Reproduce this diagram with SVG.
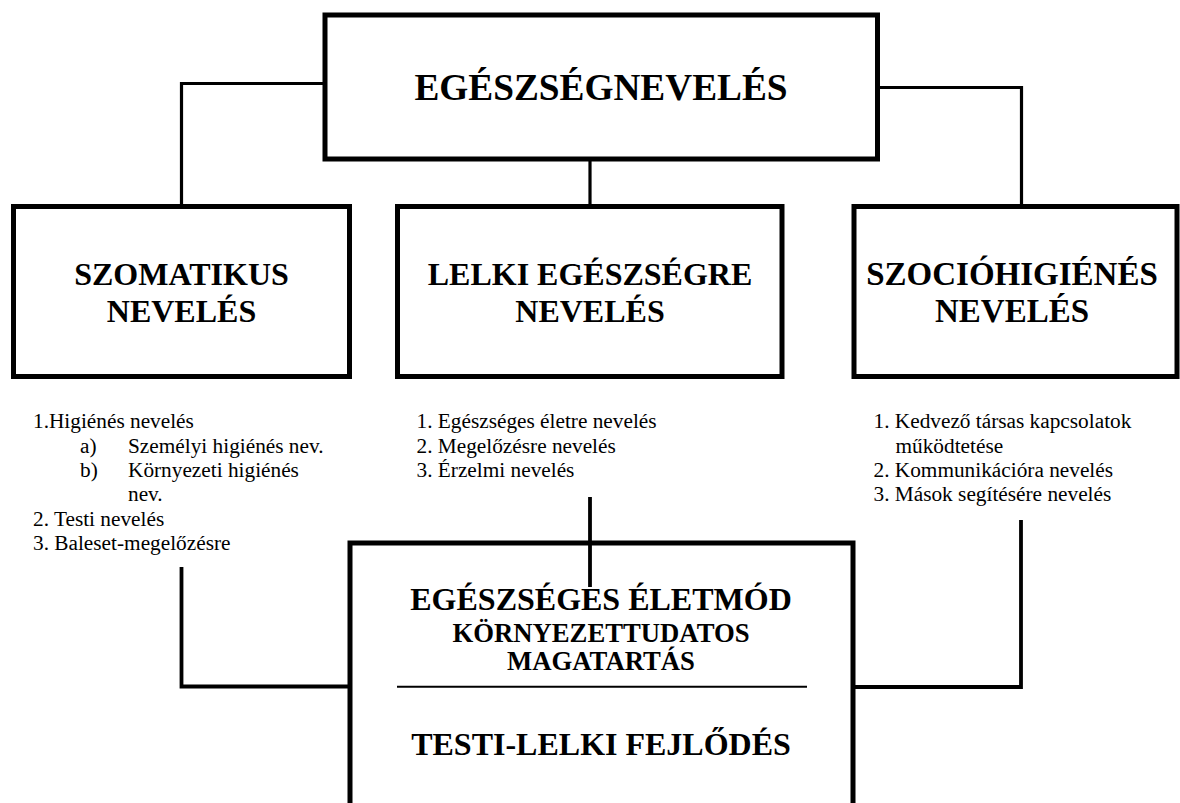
<svg xmlns="http://www.w3.org/2000/svg" width="1180" height="803" viewBox="0 0 1180 803">
<style>
.box{fill:none;stroke:#000;stroke-width:5}
.con{fill:none;stroke:#000;stroke-width:3.2}
.con2{fill:none;stroke:#000;stroke-width:3.8}
.h{font-family:"Liberation Serif","Times New Roman",serif;font-weight:bold;fill:#000;text-anchor:middle}
.t{font-family:"Liberation Serif","Times New Roman",serif;font-size:21.3px;fill:#000}
</style>
<rect width="1180" height="803" fill="#fff"/>
<g id="connectors">
<polyline class="con" points="325,83.5 181.5,83.5 181.5,206.5"/>
<polyline class="con" points="877.5,87.5 1021.5,87.5 1021.5,206.5"/>
<line class="con" x1="590" y1="159" x2="590" y2="206.5"/>
<polyline class="con2" points="181.5,567 181.5,686.5 350,686.5"/>
<polyline class="con2" points="1021,520 1021,687 853,687"/>
<line class="con2" x1="590" y1="497" x2="590" y2="587"/>
</g>
<g id="n-top">
<rect class="box" x="325" y="15" width="552.5" height="144"/>
<text class="h" x="601" y="100" font-size="37.3">EGÉSZSÉGNEVELÉS</text>
</g>
<g id="n-szomatikus">
<rect class="box" x="13.5" y="206.5" width="336" height="170"/>
<text class="h" x="181.5" y="285" font-size="32">SZOMATIKUS</text>
<text class="h" x="181.5" y="322" font-size="32">NEVELÉS</text>
</g>
<g id="n-lelki">
<rect class="box" x="397.5" y="206.5" width="384.5" height="170"/>
<text class="h" x="590" y="285" font-size="32">LELKI EGÉSZSÉGRE</text>
<text class="h" x="590" y="322" font-size="32">NEVELÉS</text>
</g>
<g id="n-szocio">
<rect class="box" x="854" y="206.5" width="323" height="170"/>
<text class="h" x="1012" y="285" font-size="33">SZOCIÓHIGIÉNÉS</text>
<text class="h" x="1012" y="322" font-size="33">NEVELÉS</text>
</g>
<g id="list-szomatikus">
<text class="t" x="33" y="428">1.Higiénés nevelés</text>
<text class="t" x="80" y="452.5">a)</text>
<text class="t" x="128" y="452.5">Személyi higiénés nev.</text>
<text class="t" x="80" y="477">b)</text>
<text class="t" x="128" y="477">Környezeti higiénés</text>
<text class="t" x="128" y="501">nev.</text>
<text class="t" x="33" y="525.5">2. Testi nevelés</text>
<text class="t" x="33" y="550">3. Baleset-megelőzésre</text>
</g>
<g id="list-lelki">
<text class="t" x="416.5" y="428">1. Egészséges életre nevelés</text>
<text class="t" x="416.5" y="452.5">2. Megelőzésre nevelés</text>
<text class="t" x="416.5" y="477">3. Érzelmi nevelés</text>
</g>
<g id="list-szocio">
<text class="t" x="873.5" y="428">1. Kedvező társas kapcsolatok</text>
<text class="t" x="895.5" y="452.5">működtetése</text>
<text class="t" x="873.5" y="477">2. Kommunikációra nevelés</text>
<text class="t" x="873.5" y="501">3. Mások segítésére nevelés</text>
</g>
<g id="n-bottom">
<polyline class="box" points="350,810 350,543 853,543 853,810"/>
<text class="h" x="601" y="610" font-size="32">EGÉSZSÉGES ÉLETMÓD</text>
<text class="h" x="601" y="641.5" font-size="26.7">KÖRNYEZETTUDATOS</text>
<text class="h" x="601" y="670" font-size="26.7">MAGATARTÁS</text>
<line x1="397" y1="686.7" x2="807" y2="686.7" stroke="#000" stroke-width="2"/>
<text class="h" x="601" y="755" font-size="32">TESTI-LELKI FEJLŐDÉS</text>
</g>
</svg>
